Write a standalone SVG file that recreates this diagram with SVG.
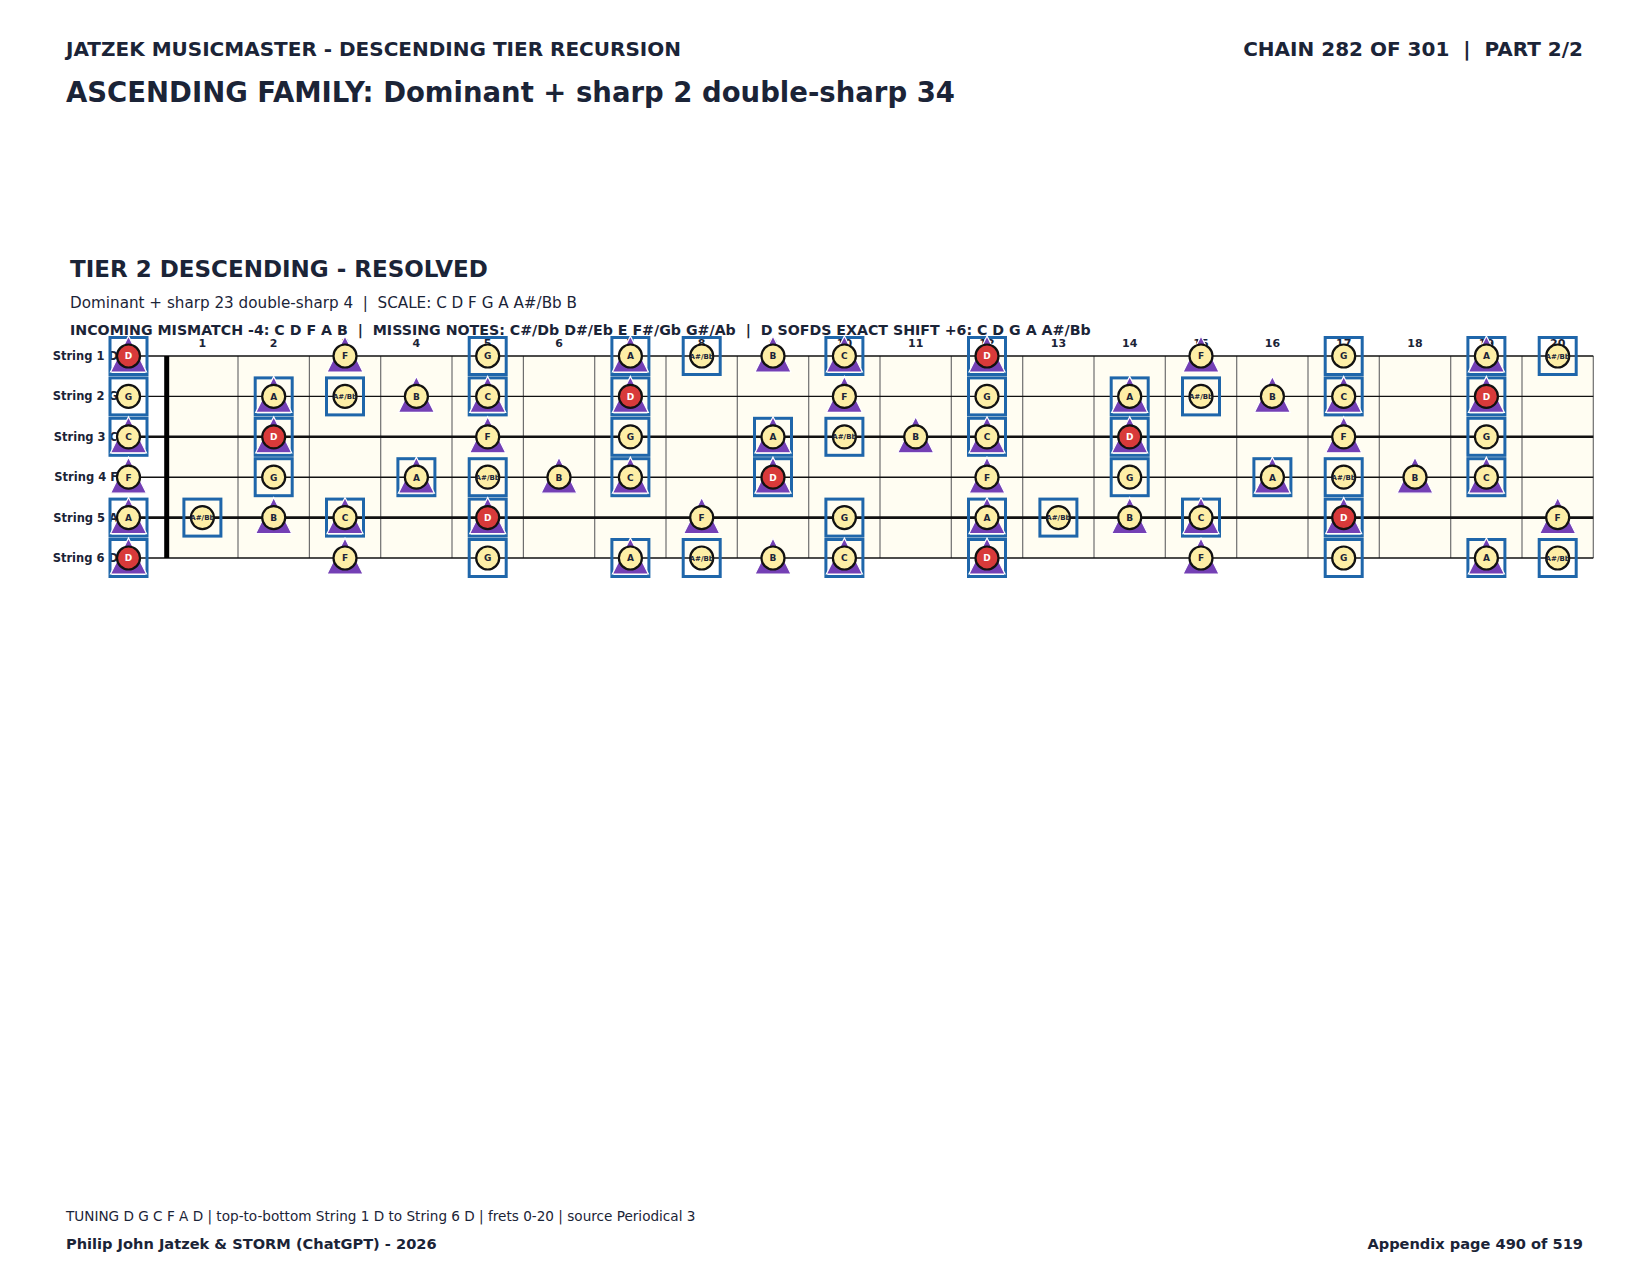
<svg xmlns="http://www.w3.org/2000/svg" xmlns:xlink="http://www.w3.org/1999/xlink" width="1650" height="1275" viewBox="0 0 1650 1275">
<style>
text{font-family:"DejaVu Sans","Liberation Sans",sans-serif;fill:#1b2437}
.h1{font-size:20px;font-weight:bold}
.h2{font-size:27.5px;font-weight:bold}
.h3{font-size:23px;font-weight:bold}
.sub{font-size:15.2px}
.info{font-size:14.2px;font-weight:bold}
.foot{font-size:13.6px}
.footb{font-size:14.6px;font-weight:bold}
.fn{font-size:11px;font-weight:bold;text-anchor:middle}
.sl{font-size:11.5px;font-weight:bold;text-anchor:end}
.fret{stroke:#6e6e6e;stroke-width:1.2}
.str{stroke:#111;stroke-width:1.4}
.str.thick{stroke-width:2.6}
.c{fill:#fdeea6;stroke:#111;stroke-width:2.2}
.c.r{fill:#d83a3a}
.nt{font-size:9px;font-weight:bold;text-anchor:middle}
.nt.w{fill:#fff}
.nt.s{font-size:7px}
</style>
<defs>
<rect id="box" x="-18.5" y="-18.5" width="37" height="37" fill="none" stroke="#1f66aa" stroke-width="3"/>
<polygon id="tri" points="0,-20 18,16 -18,16" fill="#7440b5" stroke="#fff" stroke-width="1.2"/>
<g id="bt"><use href="#box"/><use href="#tri"/></g>
</defs>

<text class="h1" x="66" y="56">JATZEK MUSICMASTER - DESCENDING TIER RECURSION</text>
<text class="h1" x="1583" y="56" text-anchor="end" xml:space="preserve">CHAIN 282 OF 301  |  PART 2/2</text>
<text class="h2" x="66" y="102">ASCENDING FAMILY: Dominant + sharp 2 double-sharp 34</text>
<text class="h3" x="70" y="277">TIER 2 DESCENDING - RESOLVED</text>
<text class="sub" x="70" y="308" xml:space="preserve">Dominant + sharp 23 double-sharp 4  |  SCALE: C D F G A A#/Bb B</text>
<text class="info" x="70" y="335" xml:space="preserve">INCOMING MISMATCH -4: C D F A B  |  MISSING NOTES: C#/Db D#/Eb E F#/Gb G#/Ab  |  D SOFDS EXACT SHIFT +6: C D G A A#/Bb</text>

<g id="board">
<rect x="166.7" y="356" width="1426.6" height="202" fill="#fffdf2"/>
<g class="frets">
<line class="fret" x1="238.0" y1="356" x2="238.0" y2="558"/>
<line class="fret" x1="309.4" y1="356" x2="309.4" y2="558"/>
<line class="fret" x1="380.7" y1="356" x2="380.7" y2="558"/>
<line class="fret" x1="452.0" y1="356" x2="452.0" y2="558"/>
<line class="fret" x1="523.4" y1="356" x2="523.4" y2="558"/>
<line class="fret" x1="594.7" y1="356" x2="594.7" y2="558"/>
<line class="fret" x1="666.0" y1="356" x2="666.0" y2="558"/>
<line class="fret" x1="737.3" y1="356" x2="737.3" y2="558"/>
<line class="fret" x1="808.7" y1="356" x2="808.7" y2="558"/>
<line class="fret" x1="880.0" y1="356" x2="880.0" y2="558"/>
<line class="fret" x1="951.3" y1="356" x2="951.3" y2="558"/>
<line class="fret" x1="1022.7" y1="356" x2="1022.7" y2="558"/>
<line class="fret" x1="1094.0" y1="356" x2="1094.0" y2="558"/>
<line class="fret" x1="1165.3" y1="356" x2="1165.3" y2="558"/>
<line class="fret" x1="1236.7" y1="356" x2="1236.7" y2="558"/>
<line class="fret" x1="1308.0" y1="356" x2="1308.0" y2="558"/>
<line class="fret" x1="1379.3" y1="356" x2="1379.3" y2="558"/>
<line class="fret" x1="1450.7" y1="356" x2="1450.7" y2="558"/>
<line class="fret" x1="1522.0" y1="356" x2="1522.0" y2="558"/>
<line class="fret" x1="1593.3" y1="356" x2="1593.3" y2="558"/>
</g>
<g class="strings">
<line class="str" x1="128.5" y1="356" x2="1593.3" y2="356"/>
<line class="str" x1="128.5" y1="396.4" x2="1593.3" y2="396.4"/>
<line class="str thick" x1="128.5" y1="436.8" x2="1593.3" y2="436.8"/>
<line class="str" x1="128.5" y1="477.2" x2="1593.3" y2="477.2"/>
<line class="str thick" x1="128.5" y1="517.6" x2="1593.3" y2="517.6"/>
<line class="str" x1="128.5" y1="558" x2="1593.3" y2="558"/>
</g>
<line x1="166.7" y1="356" x2="166.7" y2="558" stroke="#000" stroke-width="5"/>
<g class="fretnums">
<text class="fn" x="202.4" y="347">1</text>
<text class="fn" x="273.7" y="347">2</text>
<text class="fn" x="345.0" y="347">3</text>
<text class="fn" x="416.4" y="347">4</text>
<text class="fn" x="487.7" y="347">5</text>
<text class="fn" x="559.0" y="347">6</text>
<text class="fn" x="630.4" y="347">7</text>
<text class="fn" x="701.7" y="347">8</text>
<text class="fn" x="773.0" y="347">9</text>
<text class="fn" x="844.4" y="347">10</text>
<text class="fn" x="915.7" y="347">11</text>
<text class="fn" x="987.0" y="347">12</text>
<text class="fn" x="1058.4" y="347">13</text>
<text class="fn" x="1129.7" y="347">14</text>
<text class="fn" x="1201.0" y="347">15</text>
<text class="fn" x="1272.4" y="347">16</text>
<text class="fn" x="1343.7" y="347">17</text>
<text class="fn" x="1415.0" y="347">18</text>
<text class="fn" x="1486.4" y="347">19</text>
<text class="fn" x="1557.7" y="347">20</text>
</g>
<g class="stringlabels">
<text class="sl" x="118" y="360">String 1 D</text>
<text class="sl" x="118" y="400.4">String 2 G</text>
<text class="sl" x="118" y="440.8">String 3 C</text>
<text class="sl" x="118" y="481.2">String 4 F</text>
<text class="sl" x="118" y="521.6">String 5 A</text>
<text class="sl" x="118" y="562">String 6 D</text>
</g>
</g>

<g id="connectors"></g>

<g id="notes">
<!-- String 1 -->
<g id="s1f0" transform="translate(128.5,356)"><use href="#bt"/><circle class="c r" r="11.5"/><text class="nt w" y="3.3">D</text></g>
<g id="s1f3" transform="translate(345.0,356)"><use href="#tri"/><circle class="c" r="11.5"/><text class="nt" y="3.3">F</text></g>
<g id="s1f5" transform="translate(487.7,356)"><use href="#box"/><circle class="c" r="11.5"/><text class="nt" y="3.3">G</text></g>
<g id="s1f7" transform="translate(630.4,356)"><use href="#bt"/><circle class="c" r="11.5"/><text class="nt" y="3.3">A</text></g>
<g id="s1f8" transform="translate(701.7,356)"><use href="#box"/><circle class="c" r="11.5"/><text class="nt s" y="2.5">A#/Bb</text></g>
<g id="s1f9" transform="translate(773.0,356)"><use href="#tri"/><circle class="c" r="11.5"/><text class="nt" y="3.3">B</text></g>
<g id="s1f10" transform="translate(844.4,356)"><use href="#bt"/><circle class="c" r="11.5"/><text class="nt" y="3.3">C</text></g>
<g id="s1f12" transform="translate(987.0,356)"><use href="#bt"/><circle class="c r" r="11.5"/><text class="nt w" y="3.3">D</text></g>
<g id="s1f15" transform="translate(1201.0,356)"><use href="#tri"/><circle class="c" r="11.5"/><text class="nt" y="3.3">F</text></g>
<g id="s1f17" transform="translate(1343.7,356)"><use href="#box"/><circle class="c" r="11.5"/><text class="nt" y="3.3">G</text></g>
<g id="s1f19" transform="translate(1486.4,356)"><use href="#bt"/><circle class="c" r="11.5"/><text class="nt" y="3.3">A</text></g>
<g id="s1f20" transform="translate(1557.7,356)"><use href="#box"/><circle class="c" r="11.5"/><text class="nt s" y="2.5">A#/Bb</text></g>
<!-- String 2 -->
<g id="s2f0" transform="translate(128.5,396.4)"><use href="#box"/><circle class="c" r="11.5"/><text class="nt" y="3.3">G</text></g>
<g id="s2f2" transform="translate(273.7,396.4)"><use href="#bt"/><circle class="c" r="11.5"/><text class="nt" y="3.3">A</text></g>
<g id="s2f3" transform="translate(345.0,396.4)"><use href="#box"/><circle class="c" r="11.5"/><text class="nt s" y="2.5">A#/Bb</text></g>
<g id="s2f4" transform="translate(416.4,396.4)"><use href="#tri"/><circle class="c" r="11.5"/><text class="nt" y="3.3">B</text></g>
<g id="s2f5" transform="translate(487.7,396.4)"><use href="#bt"/><circle class="c" r="11.5"/><text class="nt" y="3.3">C</text></g>
<g id="s2f7" transform="translate(630.4,396.4)"><use href="#bt"/><circle class="c r" r="11.5"/><text class="nt w" y="3.3">D</text></g>
<g id="s2f10" transform="translate(844.4,396.4)"><use href="#tri"/><circle class="c" r="11.5"/><text class="nt" y="3.3">F</text></g>
<g id="s2f12" transform="translate(987.0,396.4)"><use href="#box"/><circle class="c" r="11.5"/><text class="nt" y="3.3">G</text></g>
<g id="s2f14" transform="translate(1129.7,396.4)"><use href="#bt"/><circle class="c" r="11.5"/><text class="nt" y="3.3">A</text></g>
<g id="s2f15" transform="translate(1201.0,396.4)"><use href="#box"/><circle class="c" r="11.5"/><text class="nt s" y="2.5">A#/Bb</text></g>
<g id="s2f16" transform="translate(1272.4,396.4)"><use href="#tri"/><circle class="c" r="11.5"/><text class="nt" y="3.3">B</text></g>
<g id="s2f17" transform="translate(1343.7,396.4)"><use href="#bt"/><circle class="c" r="11.5"/><text class="nt" y="3.3">C</text></g>
<g id="s2f19" transform="translate(1486.4,396.4)"><use href="#bt"/><circle class="c r" r="11.5"/><text class="nt w" y="3.3">D</text></g>
<!-- String 3 -->
<g id="s3f0" transform="translate(128.5,436.8)"><use href="#bt"/><circle class="c" r="11.5"/><text class="nt" y="3.3">C</text></g>
<g id="s3f2" transform="translate(273.7,436.8)"><use href="#bt"/><circle class="c r" r="11.5"/><text class="nt w" y="3.3">D</text></g>
<g id="s3f5" transform="translate(487.7,436.8)"><use href="#tri"/><circle class="c" r="11.5"/><text class="nt" y="3.3">F</text></g>
<g id="s3f7" transform="translate(630.4,436.8)"><use href="#box"/><circle class="c" r="11.5"/><text class="nt" y="3.3">G</text></g>
<g id="s3f9" transform="translate(773.0,436.8)"><use href="#bt"/><circle class="c" r="11.5"/><text class="nt" y="3.3">A</text></g>
<g id="s3f10" transform="translate(844.4,436.8)"><use href="#box"/><circle class="c" r="11.5"/><text class="nt s" y="2.5">A#/Bb</text></g>
<g id="s3f11" transform="translate(915.7,436.8)"><use href="#tri"/><circle class="c" r="11.5"/><text class="nt" y="3.3">B</text></g>
<g id="s3f12" transform="translate(987.0,436.8)"><use href="#bt"/><circle class="c" r="11.5"/><text class="nt" y="3.3">C</text></g>
<g id="s3f14" transform="translate(1129.7,436.8)"><use href="#bt"/><circle class="c r" r="11.5"/><text class="nt w" y="3.3">D</text></g>
<g id="s3f17" transform="translate(1343.7,436.8)"><use href="#tri"/><circle class="c" r="11.5"/><text class="nt" y="3.3">F</text></g>
<g id="s3f19" transform="translate(1486.4,436.8)"><use href="#box"/><circle class="c" r="11.5"/><text class="nt" y="3.3">G</text></g>
<!-- String 4 -->
<g id="s4f0" transform="translate(128.5,477.2)"><use href="#tri"/><circle class="c" r="11.5"/><text class="nt" y="3.3">F</text></g>
<g id="s4f2" transform="translate(273.7,477.2)"><use href="#box"/><circle class="c" r="11.5"/><text class="nt" y="3.3">G</text></g>
<g id="s4f4" transform="translate(416.4,477.2)"><use href="#bt"/><circle class="c" r="11.5"/><text class="nt" y="3.3">A</text></g>
<g id="s4f5" transform="translate(487.7,477.2)"><use href="#box"/><circle class="c" r="11.5"/><text class="nt s" y="2.5">A#/Bb</text></g>
<g id="s4f6" transform="translate(559.0,477.2)"><use href="#tri"/><circle class="c" r="11.5"/><text class="nt" y="3.3">B</text></g>
<g id="s4f7" transform="translate(630.4,477.2)"><use href="#bt"/><circle class="c" r="11.5"/><text class="nt" y="3.3">C</text></g>
<g id="s4f9" transform="translate(773.0,477.2)"><use href="#bt"/><circle class="c r" r="11.5"/><text class="nt w" y="3.3">D</text></g>
<g id="s4f12" transform="translate(987.0,477.2)"><use href="#tri"/><circle class="c" r="11.5"/><text class="nt" y="3.3">F</text></g>
<g id="s4f14" transform="translate(1129.7,477.2)"><use href="#box"/><circle class="c" r="11.5"/><text class="nt" y="3.3">G</text></g>
<g id="s4f16" transform="translate(1272.4,477.2)"><use href="#bt"/><circle class="c" r="11.5"/><text class="nt" y="3.3">A</text></g>
<g id="s4f17" transform="translate(1343.7,477.2)"><use href="#box"/><circle class="c" r="11.5"/><text class="nt s" y="2.5">A#/Bb</text></g>
<g id="s4f18" transform="translate(1415.0,477.2)"><use href="#tri"/><circle class="c" r="11.5"/><text class="nt" y="3.3">B</text></g>
<g id="s4f19" transform="translate(1486.4,477.2)"><use href="#bt"/><circle class="c" r="11.5"/><text class="nt" y="3.3">C</text></g>
<!-- String 5 -->
<g id="s5f0" transform="translate(128.5,517.6)"><use href="#bt"/><circle class="c" r="11.5"/><text class="nt" y="3.3">A</text></g>
<g id="s5f1" transform="translate(202.4,517.6)"><use href="#box"/><circle class="c" r="11.5"/><text class="nt s" y="2.5">A#/Bb</text></g>
<g id="s5f2" transform="translate(273.7,517.6)"><use href="#tri"/><circle class="c" r="11.5"/><text class="nt" y="3.3">B</text></g>
<g id="s5f3" transform="translate(345.0,517.6)"><use href="#bt"/><circle class="c" r="11.5"/><text class="nt" y="3.3">C</text></g>
<g id="s5f5" transform="translate(487.7,517.6)"><use href="#bt"/><circle class="c r" r="11.5"/><text class="nt w" y="3.3">D</text></g>
<g id="s5f8" transform="translate(701.7,517.6)"><use href="#tri"/><circle class="c" r="11.5"/><text class="nt" y="3.3">F</text></g>
<g id="s5f10" transform="translate(844.4,517.6)"><use href="#box"/><circle class="c" r="11.5"/><text class="nt" y="3.3">G</text></g>
<g id="s5f12" transform="translate(987.0,517.6)"><use href="#bt"/><circle class="c" r="11.5"/><text class="nt" y="3.3">A</text></g>
<g id="s5f13" transform="translate(1058.4,517.6)"><use href="#box"/><circle class="c" r="11.5"/><text class="nt s" y="2.5">A#/Bb</text></g>
<g id="s5f14" transform="translate(1129.7,517.6)"><use href="#tri"/><circle class="c" r="11.5"/><text class="nt" y="3.3">B</text></g>
<g id="s5f15" transform="translate(1201.0,517.6)"><use href="#bt"/><circle class="c" r="11.5"/><text class="nt" y="3.3">C</text></g>
<g id="s5f17" transform="translate(1343.7,517.6)"><use href="#bt"/><circle class="c r" r="11.5"/><text class="nt w" y="3.3">D</text></g>
<g id="s5f20" transform="translate(1557.7,517.6)"><use href="#tri"/><circle class="c" r="11.5"/><text class="nt" y="3.3">F</text></g>
<!-- String 6 -->
<g id="s6f0" transform="translate(128.5,558)"><use href="#bt"/><circle class="c r" r="11.5"/><text class="nt w" y="3.3">D</text></g>
<g id="s6f3" transform="translate(345.0,558)"><use href="#tri"/><circle class="c" r="11.5"/><text class="nt" y="3.3">F</text></g>
<g id="s6f5" transform="translate(487.7,558)"><use href="#box"/><circle class="c" r="11.5"/><text class="nt" y="3.3">G</text></g>
<g id="s6f7" transform="translate(630.4,558)"><use href="#bt"/><circle class="c" r="11.5"/><text class="nt" y="3.3">A</text></g>
<g id="s6f8" transform="translate(701.7,558)"><use href="#box"/><circle class="c" r="11.5"/><text class="nt s" y="2.5">A#/Bb</text></g>
<g id="s6f9" transform="translate(773.0,558)"><use href="#tri"/><circle class="c" r="11.5"/><text class="nt" y="3.3">B</text></g>
<g id="s6f10" transform="translate(844.4,558)"><use href="#bt"/><circle class="c" r="11.5"/><text class="nt" y="3.3">C</text></g>
<g id="s6f12" transform="translate(987.0,558)"><use href="#bt"/><circle class="c r" r="11.5"/><text class="nt w" y="3.3">D</text></g>
<g id="s6f15" transform="translate(1201.0,558)"><use href="#tri"/><circle class="c" r="11.5"/><text class="nt" y="3.3">F</text></g>
<g id="s6f17" transform="translate(1343.7,558)"><use href="#box"/><circle class="c" r="11.5"/><text class="nt" y="3.3">G</text></g>
<g id="s6f19" transform="translate(1486.4,558)"><use href="#bt"/><circle class="c" r="11.5"/><text class="nt" y="3.3">A</text></g>
<g id="s6f20" transform="translate(1557.7,558)"><use href="#box"/><circle class="c" r="11.5"/><text class="nt s" y="2.5">A#/Bb</text></g>
</g>

<text class="foot" x="66" y="1221">TUNING D G C F A D | top-to-bottom String 1 D to String 6 D | frets 0-20 | source Periodical 3</text>
<text class="footb" x="66" y="1249">Philip John Jatzek &amp; STORM (ChatGPT) - 2026</text>
<text class="footb" x="1583" y="1249" text-anchor="end">Appendix page 490 of 519</text>
</svg>
